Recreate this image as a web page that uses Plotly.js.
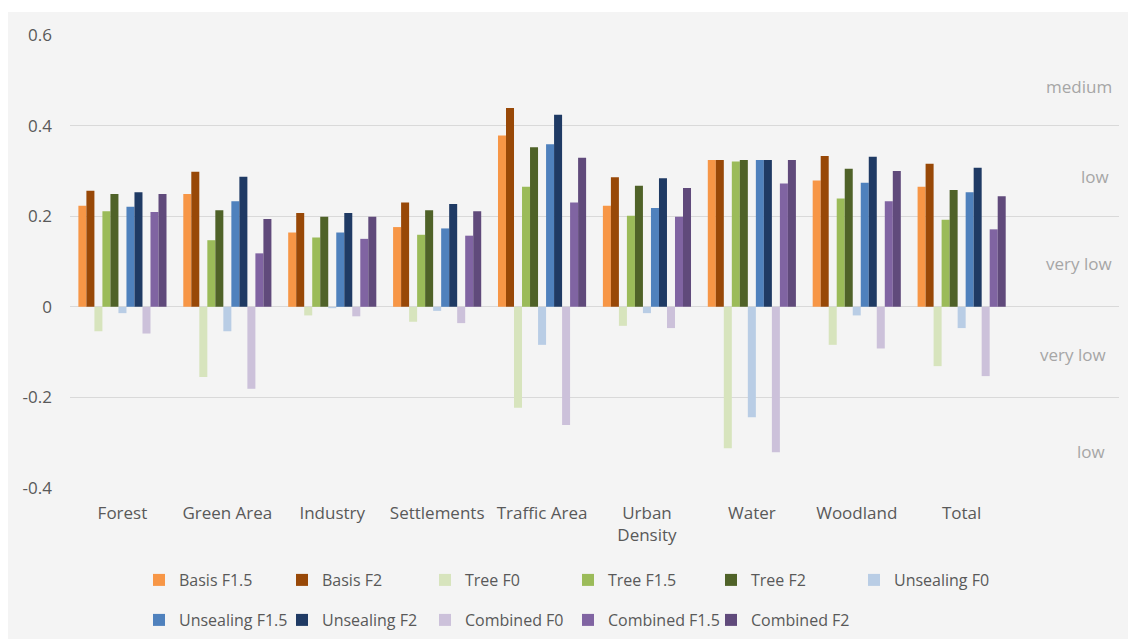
<!DOCTYPE html>
<html>
<head>
<meta charset="utf-8">
<script src="https://cdn.plot.ly/plotly-3.0.1.min.js"></script>
<style>
  html, body { margin: 0; padding: 0; background: #ffffff; }
  #chart { width: 1128px; height: 639px; }
</style>
</head>
<body>
<div id="chart"></div>
<script>
// Categories (x axis)
var categories = ["Forest", "Green Area", "Industry", "Settlements", "Traffic Area", "Urban<br>Density", "Water", "Woodland", "Total"];

// Series values (one value per category)
var basisF15      = [0.223, 0.249, 0.164, 0.176, 0.378, 0.223, 0.324, 0.279, 0.265];
var basisF2       = [0.256, 0.298, 0.207, 0.230, 0.439, 0.286, 0.324, 0.333, 0.316];
var treeF0        = [-0.054, -0.155, -0.019, -0.033, -0.223, -0.042, -0.312, -0.084, -0.131];
var treeF15       = [0.211, 0.147, 0.153, 0.159, 0.265, 0.201, 0.321, 0.239, 0.192];
var treeF2        = [0.249, 0.213, 0.199, 0.213, 0.352, 0.267, 0.324, 0.305, 0.258];
var unsealingF0   = [-0.014, -0.054, -0.003, -0.009, -0.084, -0.014, -0.244, -0.019, -0.047];
var unsealingF15  = [0.221, 0.233, 0.164, 0.173, 0.359, 0.218, 0.324, 0.274, 0.253];
var unsealingF2   = [0.253, 0.287, 0.207, 0.227, 0.424, 0.284, 0.324, 0.331, 0.307];
var combinedF0    = [-0.059, -0.181, -0.021, -0.036, -0.261, -0.047, -0.321, -0.092, -0.153];
var combinedF15   = [0.209, 0.118, 0.150, 0.157, 0.230, 0.199, 0.272, 0.233, 0.171];
var combinedF2    = [0.249, 0.194, 0.199, 0.211, 0.329, 0.262, 0.324, 0.300, 0.244];

// Series names
var seriesNames = ["Basis F1.5", "Basis F2", "Tree F0", "Tree F1.5", "Tree F2", "Unsealing F0",
                   "Unsealing F1.5", "Unsealing F2", "Combined F0", "Combined F1.5", "Combined F2"];

// Y tick labels
var yTickVals = [-0.4, -0.2, 0, 0.2, 0.4, 0.6];
var yTickText = ["-0.4", "-0.2", "0", "0.2", "0.4", "0.6"];

// Level labels on the right side
var levelLabels = ["medium", "low", "very low", "very low", "low"];
var levelValues = [0.487, 0.287, 0.095, -0.105, -0.32];

// ---- styling ----
var seriesValues = [basisF15, basisF2, treeF0, treeF15, treeF2, unsealingF0,
                    unsealingF15, unsealingF2, combinedF0, combinedF15, combinedF2];
var colors = ["#f79646", "#984807", "#d7e4bd", "#9bbb59", "#4f6228", "#b9cde5",
              "#4f81bd", "#1f3a64", "#ccc1da", "#8064a2", "#604a7b"];
var legendOf = ["legend", "legend", "legend", "legend", "legend", "legend",
                "legend2", "legend2", "legend2", "legend2", "legend2"];

var traces = seriesNames.map(function (name, i) {
  return {
    type: "bar",
    name: name,
    x: categories,
    y: seriesValues[i],
    marker: { color: colors[i], line: { width: 0 } },
    legend: legendOf[i],
    hoverinfo: "x+y+name"
  };
});

// Pixel geometry helpers
var L = 70, R = 9, T = 35, B = 151, W = 1128, H = 639;
var pw = W - L - R, ph = H - T - B;
function px2x(px) { return (px - L) / pw; }
function py2y(py) { return (H - B - py) / ph; }

var levelX = [1079, 1095, 1079, 1073, 1091];
var annotations = levelLabels.map(function (t, i) {
  return {
    text: t, xref: "paper", yref: "y",
    x: px2x(levelX[i]), y: levelValues[i],
    xanchor: "center", yanchor: "middle", showarrow: false,
    font: { family: "Open Sans", size: 17, color: "#a6a6a6" }
  };
});

var legendFont = { family: "Open Sans", size: 16, color: "#595959" };

var layout = {
  width: W, height: H,
  margin: { l: L, r: R, t: T, b: B, pad: 0, autoexpand: false },
  paper_bgcolor: "#ffffff",
  plot_bgcolor: "rgba(0,0,0,0)",
  font: { family: "Open Sans", size: 17, color: "#595959" },
  barmode: "group",
  bargap: 0.16,
  bargroupgap: 0,
  xaxis: {
    type: "category",
    categoryorder: "array",
    categoryarray: categories,
    range: [-0.5, 9.5],
    automargin: false,
    showgrid: false, showline: false, zeroline: false,
    ticks: "", ticklabelstandoff: 13,
    tickfont: { family: "Open Sans", size: 17, color: "#595959" },
    fixedrange: true
  },
  yaxis: {
    range: [-0.4, 0.6],
    automargin: false,
    tickvals: yTickVals, ticktext: yTickText,
    showgrid: true, gridcolor: "#d9d9d9", gridwidth: 1.3,
    zeroline: true, zerolinecolor: "#d9d9d9", zerolinewidth: 1.3,
    showline: false, ticks: "", ticklabelstandoff: 17,
    tickfont: { family: "Open Sans", size: 17, color: "#595959" },
    fixedrange: true
  },
  shapes: [{
    type: "rect", xref: "paper", yref: "paper", layer: "below",
    x0: px2x(8), x1: px2x(1140), y0: py2y(12), y1: py2y(660),
    fillcolor: "#f4f4f4", line: { width: 0 }
  }],
  annotations: annotations,
  showlegend: true,
  legend: {
    orientation: "h", xref: "container", yref: "container",
    x: 139 / W, xanchor: "left",
    y: 1 - 580 / H, yanchor: "middle",
    entrywidth: 98, entrywidthmode: "pixels",
    itemwidth: 30, bgcolor: "rgba(0,0,0,0)",
    font: legendFont, traceorder: "normal"
  },
  legend2: {
    orientation: "h", xref: "container", yref: "container",
    x: 139 / W, xanchor: "left",
    y: 1 - 620 / H, yanchor: "middle",
    entrywidth: 98, entrywidthmode: "pixels",
    itemwidth: 30, bgcolor: "rgba(0,0,0,0)",
    font: legendFont, traceorder: "normal"
  }
};

Plotly.newPlot("chart", traces, layout, { displayModeBar: false, staticPlot: true });
</script>
</body>
</html>
